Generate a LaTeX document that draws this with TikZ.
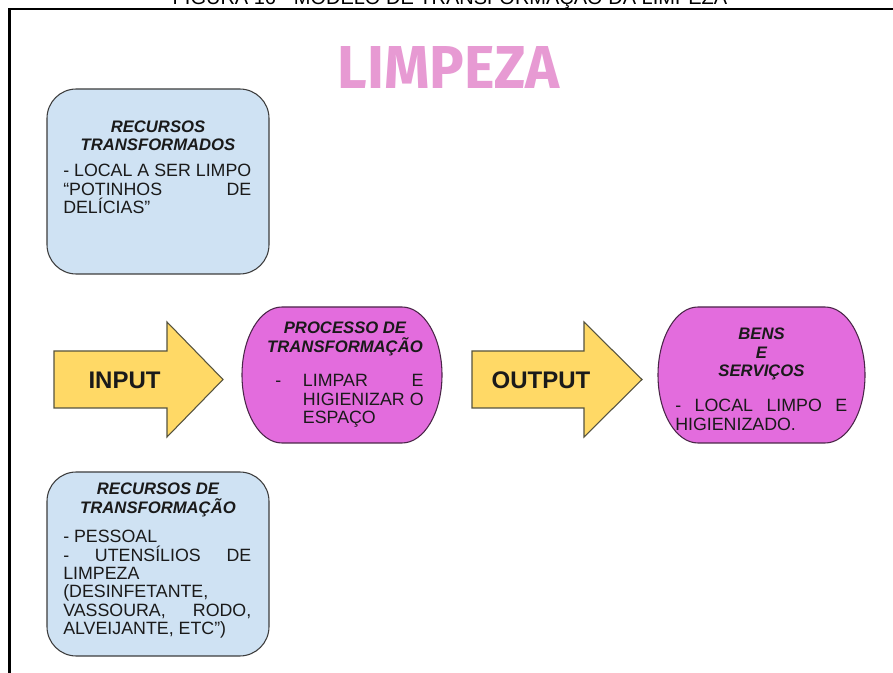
\documentclass[tikz,border=0pt]{standalone}
\usepackage{fontspec}
\setmainfont{Liberation Sans}
\newfontfamily\headfont{Fira Sans}

\definecolor{boxblue}{HTML}{CFE2F3}
\definecolor{boxline}{HTML}{3D3D3D}
\definecolor{arrowyellow}{HTML}{FFD966}
\definecolor{arrowline}{HTML}{55533F}
\definecolor{procmagenta}{HTML}{E36CDD}
\definecolor{procline}{HTML}{4A2648}
\definecolor{titlepink}{HTML}{E79AD3}
\definecolor{txtdark}{HTML}{1A1A1A}

\begin{document}
\begin{tikzpicture}[x=0.75pt,y=-0.75pt,
  bluebox/.style={draw=boxline, fill=boxblue, line width=0.8pt,
    rounded corners=22pt, inner sep=0pt},
  blockarrow/.style={draw=arrowline, fill=arrowyellow, line width=0.8pt, line join=miter},
  procshape/.style={draw=procline, fill=procmagenta, line width=0.8pt},
  headtxt/.style={font=\fontsize{12.5}{13.75}\selectfont\bfseries\itshape,
    inner sep=0pt, anchor=base, text=txtdark},
  bodytxt/.style={font=\fontsize{13.35}{13.75}\selectfont,
    inner sep=0pt, anchor=base west, text=txtdark},
  arrowtxt/.style={font=\fontsize{18}{20}\selectfont\bfseries,
    inner sep=0pt, anchor=base, text=txtdark}]

\useasboundingbox (0,0) rectangle (893,673);
\fill[white] (0,0) rectangle (893,673);

% caption line, cut by the top edge of the page
\begin{scope}
  \clip (0,0) rectangle (893,673);
  \node[anchor=base, inner sep=0pt, font=\fontsize{15}{18}\selectfont] (caption)
    at (450,4.7) {FIGURA 16 - MODELO DE TRANSFORMAÇÃO DA LIMPEZA};
\end{scope}

% page frame (left and top rules)
\draw[line width=2pt, black] (9.5,673) -- (9.5,9) -- (893,9);

% heading
\node[inner sep=0pt, text=titlepink] (heading) at (449,68)
  {\resizebox{166.5pt}{31.5pt}{\headfont\bfseries LIMPEZA}};

% transformed resources
\node[bluebox, minimum width=166.5pt, minimum height=138.75pt] (recTransf) at (158,181.5) {};
\node[headtxt] (recTransfHead) at (158,132.3)
  {\parbox[t]{160pt}{\centering RECURSOS\\TRANSFORMADOS}};
\node[bodytxt] (recTransfBody) at (63,176.7)
  {\parbox[t]{141pt}{\raggedright
    \makebox[141pt][s]{- LOCAL A SER LIMPO}\\
    \makebox[141pt][s]{“POTINHOS DE}\\
    DELÍCIAS”}};

% transforming resources
\node[bluebox, minimum width=166.5pt, minimum height=138pt] (recTransfm) at (158,564) {};
\node[headtxt] (recTransfmHead) at (158,495)
  {\parbox[t]{160pt}{\centering RECURSOS DE\\TRANSFORMAÇÃO}};
\node[bodytxt] (recTransfmBody) at (63,542.7)
  {\parbox[t]{141pt}{\raggedright
    - PESSOAL\\
    \makebox[141pt][s]{- UTENSÍLIOS DE}\\
    LIMPEZA\\
    (DESINFETANTE,\\
    \makebox[141pt][s]{VASSOURA, RODO,}\\
    ALVEIJANTE, ETC”)}};

% input arrow
\draw[blockarrow] (54,351) -- (167,351) -- (167,322) -- (223,379.5)
  -- (167,437) -- (167,408) -- (54,408) -- cycle;
\node[arrowtxt] (inputTxt) at (124.5,389) {INPUT};

% transformation process
\draw[procshape] (282,307) -- (402,307)
  .. controls (424.1,307) and (442,337.4) .. (442,375)
  .. controls (442,412.6) and (424.1,443) .. (402,443)
  -- (282,443)
  .. controls (259.9,443) and (242,412.6) .. (242,375)
  .. controls (242,337.4) and (259.9,307) .. (282,307) -- cycle;
\coordinate (process) at (342,375);
\node[headtxt] (processHead) at (345,334)
  {\parbox[t]{160pt}{\centering PROCESSO DE\\TRANSFORMAÇÃO}};
\node[bodytxt] (processDash) at (275,386.7) {-};
\node[bodytxt] (processBody) at (302.7,386.7)
  {\parbox[t]{90.5pt}{\raggedright
    \makebox[90.5pt][s]{LIMPAR E}\\
    \makebox[90.5pt][s]{HIGIENIZAR O}\\
    ESPAÇO}};

% output arrow
\draw[blockarrow] (472,351) -- (584,351) -- (584,322) -- (642,379.5)
  -- (584,437) -- (584,408) -- (472,408) -- cycle;
\node[arrowtxt] (outputTxt) at (541,389) {OUTPUT};

% goods and services
\draw[procshape] (698,307) -- (825,307)
  .. controls (847.1,307) and (865,337.4) .. (865,375)
  .. controls (865,412.6) and (847.1,443) .. (825,443)
  -- (698,443)
  .. controls (675.9,443) and (658,412.6) .. (658,375)
  .. controls (658,337.4) and (675.9,307) .. (698,307) -- cycle;
\coordinate (goods) at (761.5,375);
\node[headtxt] (goodsHead) at (761.5,340)
  {\parbox[t]{120pt}{\centering BENS\\E\\SERVIÇOS}};
\node[bodytxt] (goodsBody) at (675,411.7)
  {\parbox[t]{129pt}{\raggedright
    \makebox[129pt][s]{- LOCAL LIMPO E}\\
    HIGIENIZADO.}};

\end{tikzpicture}
\end{document}
